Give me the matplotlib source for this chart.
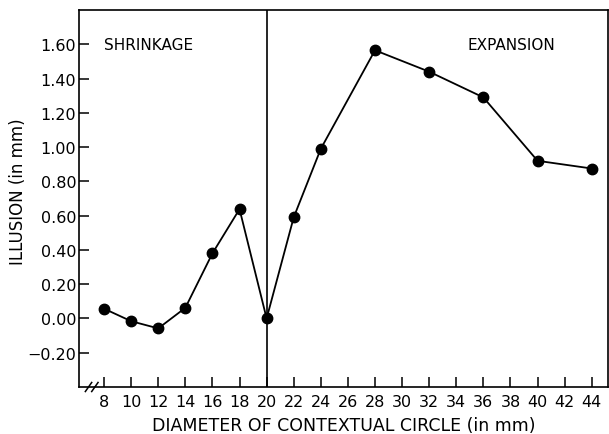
import matplotlib
matplotlib.use("Agg")
import matplotlib.pyplot as plt

diameters = [8, 10, 12, 14, 16, 18, 20, 22, 24, 28, 32, 36, 40, 44]
illusion = [0.057, -0.016, -0.058, 0.062, 0.38, 0.638, 0.0, 0.59, 0.99, 1.565, 1.44, 1.29, 0.92, 0.875]
xticks = list(range(8, 45, 2))
yticks = [-0.2, 0.0, 0.2, 0.4, 0.6, 0.8, 1.0, 1.2, 1.4, 1.6]

plt.rcParams['font.family'] = ['DejaVu Sans']
fig = plt.figure(figsize=(6.09, 4.35), dpi=100)
ax = fig.add_axes([79/609, 1-388/435, (608-79)/609, (388-11)/435])

ax.plot(diameters, illusion, color='black', lw=1.3, marker='o', markersize=7.5)
ax.axvline(20, color='black', lw=1.2)

ax.set_xlim(6.15, 45.2)
ax.set_ylim(-0.40, 1.80)
ax.set_xticks(xticks)
ax.set_xticklabels([str(t) for t in xticks])
ax.set_yticks(yticks)
ax.set_yticklabels([f"{t:.2f}".replace('-', '\u2212') for t in yticks])
ax.tick_params(direction='in', length=7, width=1.1, labelsize=11.5)
ax.tick_params(axis='x', pad=5)
ax.tick_params(axis='y', pad=2)
for s in ax.spines.values():
    s.set_linewidth(1.2)

ax.text(8.0, 1.6, 'SHRINKAGE', fontsize=11, va='center', ha='left')
ax.text(41.3, 1.6, 'EXPANSION', fontsize=11, va='center', ha='right')

ax.set_ylabel('ILLUSION (in mm)', fontsize=12, va='center')
ax.yaxis.set_label_coords(-0.115, 0.522)
ax.set_xlabel('DIAMETER OF CONTEXTUAL CIRCLE (in mm)', fontsize=12.5, va='center')
ax.xaxis.set_label_coords(0.5, -0.102)

# axis break marks
for dx in (0.0, 0.012):
    ax.plot([0.012 + dx, 0.024 + dx], [-0.012, 0.012], transform=ax.transAxes,
            color='black', lw=1.1, clip_on=False)

fig.savefig('out.png', dpi=100)
